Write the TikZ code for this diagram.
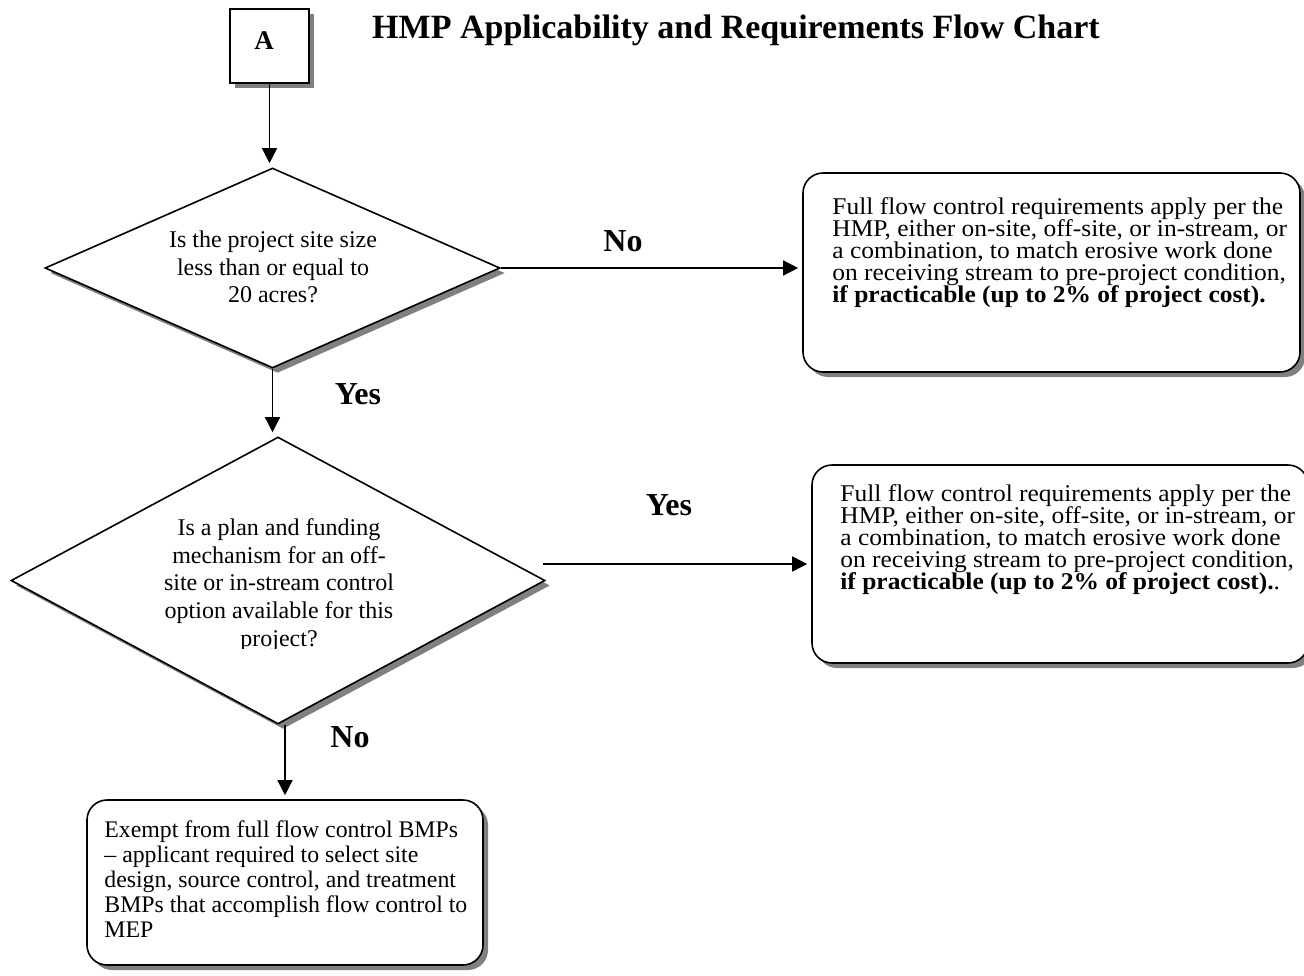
\documentclass[tikz,border=0pt]{standalone}
\usepackage{fontspec}
\setmainfont{Liberation Serif}
\newfontfamily\boxfont[FakeStretch=1.06]{Liberation Serif}
\usetikzlibrary{arrows.meta,shapes.geometric,shadows}
\definecolor{shadowCol}{RGB}{128,128,128}
\newcommand\tightlines{\lineskiplimit=-20pt\relax\lineskip=0pt\relax}
\tikzset{
  shade/.style={drop shadow={shadow xshift=2.5pt,shadow yshift=-2.5pt,fill=shadowCol,opacity=1}},
  startbox/.style={draw,line width=0.8pt,fill=white,inner sep=0pt,shade},
  decide/.style={diamond,draw,line width=0.8pt,fill=white,inner sep=0pt,shade},
  result/.style={draw,rounded corners=10pt,line width=0.8pt,fill=white,inner sep=0pt,shade},
  flow/.style={-{Triangle[length=7.5pt,width=7.5pt]},line width=0.7pt,shorten >=2pt},
  ans/.style={font=\bfseries\fontsize{16}{18}\selectfont},
  qtxt/.style={align=center,inner sep=0pt,font=\fontsize{12}{13.6}\selectfont},
  rtxt/.style={align=left,inner sep=0pt,anchor=north west,font=\tightlines\boxfont\fontsize{12}{11}\selectfont},
}
\begin{document}
\begin{tikzpicture}[x=0.5pt,y=-0.5pt]
  \useasboundingbox (0,0) rectangle (1304,975);
  % title and start box
  \node[anchor=base,font=\bfseries\fontsize{17}{20}\selectfont] (title) at (736,38) {HMP Applicability and Requirements Flow Chart};
  \node[startbox,minimum width=39.5pt,minimum height=37pt] (startA) at (269.5,46) {};
  \node[font=\bfseries\fontsize{13.5}{16}\selectfont] (lblA) at (264,41) {A};
  % questions
  \node[decide,minimum width=227.5pt,minimum height=100pt] (siteQ) at (272.5,268) {};
  \node[qtxt] (siteT) at (273,267) {Is the project site size\\less than or equal to\\20 acres?};
  \node[decide,minimum width=267pt,minimum height=143.5pt] (fundQ) at (278,580.5) {};
  \begin{scope}
    \clip (0,420) rectangle (1304,648);
    \node[qtxt,font=\fontsize{12}{13.8}\selectfont] (fundT) at (279,585) {Is a plan and funding\\mechanism for an off-\\site or in-stream control\\option available for this\\project?};
  \end{scope}
  % outcomes
  \node[result,minimum width=248.5pt,minimum height=99.5pt] (fullA) at (1051.5,272.5) {};
  \node[rtxt] (fullAT) at (832,197) {Full flow control requirements apply per the\\HMP, either on-site, off-site, or in-stream, or\\a combination, to match erosive work done\\on receiving stream to pre-project condition,\\\textbf{if practicable (up to 2\% of project cost).}};
  \node[result,minimum width=248pt,minimum height=99pt] (fullB) at (1060,564) {};
  \node[rtxt] (fullBT) at (840,484) {Full flow control requirements apply per the\\HMP, either on-site, off-site, or in-stream, or\\a combination, to match erosive work done\\on receiving stream to pre-project condition,\\\textbf{if practicable (up to 2\% of project cost).}.};
  \node[result,minimum width=198pt,minimum height=82.5pt] (exempt) at (285,882.5) {};
  \node[rtxt,font=\tightlines\fontsize{11.9}{12.5}\selectfont] (exemptT) at (104,820) {Exempt from full flow control BMPs\\– applicant required to select site\\design, source control, and treatment\\BMPs that accomplish flow control to\\MEP};
  % connectors
  \draw[flow] (startA.south) -- (startA.south |- siteQ.north);
  \draw[flow] (siteQ.east) -- (siteQ.east -| fullA.west);
  \draw[flow] (siteQ.south) -- (siteQ.south |- fundQ.north);
  \draw[flow] ([xshift=-1.5pt]fundQ.east |- fullB.west) -- (fullB.west);
  \draw[flow] (exempt.north |- fundQ.south) -- (exempt.north);
  % answers
  \node[ans] (noA) at (623,241) {No};
  \node[ans] (yesA) at (358,394) {Yes};
  \node[ans] (yesB) at (669,505) {Yes};
  \node[ans] (noB) at (350,737) {No};
\end{tikzpicture}
\end{document}
